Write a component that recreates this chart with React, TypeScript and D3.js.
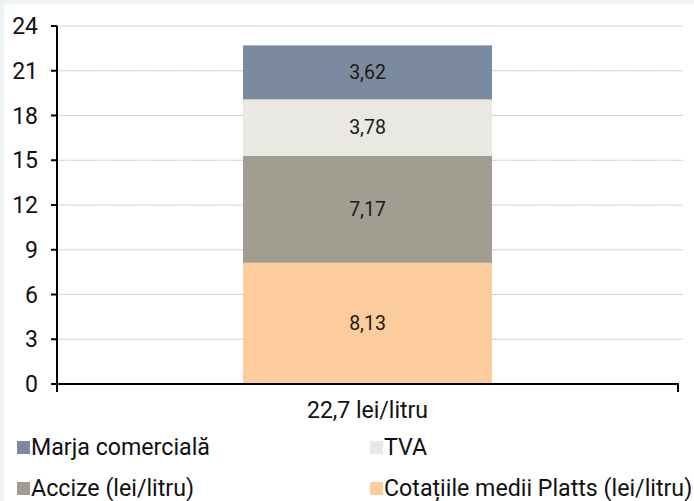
import * as d3 from 'd3'
import React from 'react'

const category = '22,7 lei/litru'
const series = ['Cotațiile medii Platts (lei/litru)', 'Accize (lei/litru)', 'TVA', 'Marja comercială']
const values = [8.13, 7.17, 3.78, 3.62]
const colors = ['#fdcc9c', '#a09e90', '#e9e8e3', '#7b8a9e']
const yTicks = [0, 3, 6, 9, 12, 15, 18, 21, 24]
const legendOrder = [3, 2, 1, 0]

const W = 694
const H = 501
const font = 'Roboto, sans-serif'

export default function App() {
  const
    y = d3.scaleLinear().domain([0, 24]).range([384, 26]),
    x = d3.scaleBand().domain([category]).range([57, 678]).paddingInner(0).paddingOuter(0.747),
    stacked = d3.stack<number[]>().keys(series.map((_, i) => String(i))).value((d, k) => d[+k])([values]),
    fmt = (v: number) => v.toFixed(2).replace('.', ',')

  return (
    <div style={{ position: 'fixed', left: 0, top: 0, width: W, height: H, background: '#eef3f6', overflow: 'hidden' }}>
      <svg width={W} height={H} style={{ display: 'block', fontFamily: font }}>
        <rect x={4} y={4} width={W - 4} height={H - 4} fill='#fff' />
        {yTicks.slice(1).map(t => (
          <line key={t} x1={57} x2={683} y1={y(t)} y2={y(t)} stroke='#b8b8b8' strokeWidth={1} strokeDasharray='1.5 1' />
        ))}
        {stacked.map((s, i) => {
          const [y0, y1] = s[0]
          return (
            <g key={i}>
              <rect x={x(category)!} width={x.bandwidth()} y={y(y1)} height={y(y0) - y(y1)} fill={colors[i]} />
              <text x={x(category)! + x.bandwidth() / 2} y={y((y0 + y1) / 2)} dy='0.35em' textAnchor='middle' fontSize={19.5} fill='#1a1a1a'>{fmt(values[i])}</text>
            </g>
          )
        })}
        <line x1={57} x2={57} y1={y(24)} y2={392} stroke='#000' strokeWidth={2} />
        <line x1={56} x2={679} y1={y(0)} y2={y(0)} stroke='#000' strokeWidth={2} />
        <line x1={678} x2={678} y1={y(0)} y2={392} stroke='#000' strokeWidth={2} />
        {yTicks.map(t => (
          <g key={t}>
            <line x1={51} x2={57} y1={y(t)} y2={y(t)} stroke='#000' strokeWidth={2} />
            <text x={38} y={y(t)} dy='0.35em' textAnchor='end' fontSize={23} fill='#111'>{t}</text>
          </g>
        ))}
        <text x={x(category)! + x.bandwidth() / 2} y={410} dy='0.35em' textAnchor='middle' fontSize={23} fill='#111'>{category}</text>
        {legendOrder.map((si, j) => {
          const lx = j % 2 === 0 ? 17 : 370, ly = j < 2 ? 447 : 488
          return (
            <g key={si}>
              <rect x={lx} y={ly - 6} width={13} height={13} fill={colors[si]} />
              <text x={lx + 14} y={ly} dy='0.35em' fontSize={23.2} fill='#111'>{series[si]}</text>
            </g>
          )
        })}
      </svg>
    </div>
  )
}
